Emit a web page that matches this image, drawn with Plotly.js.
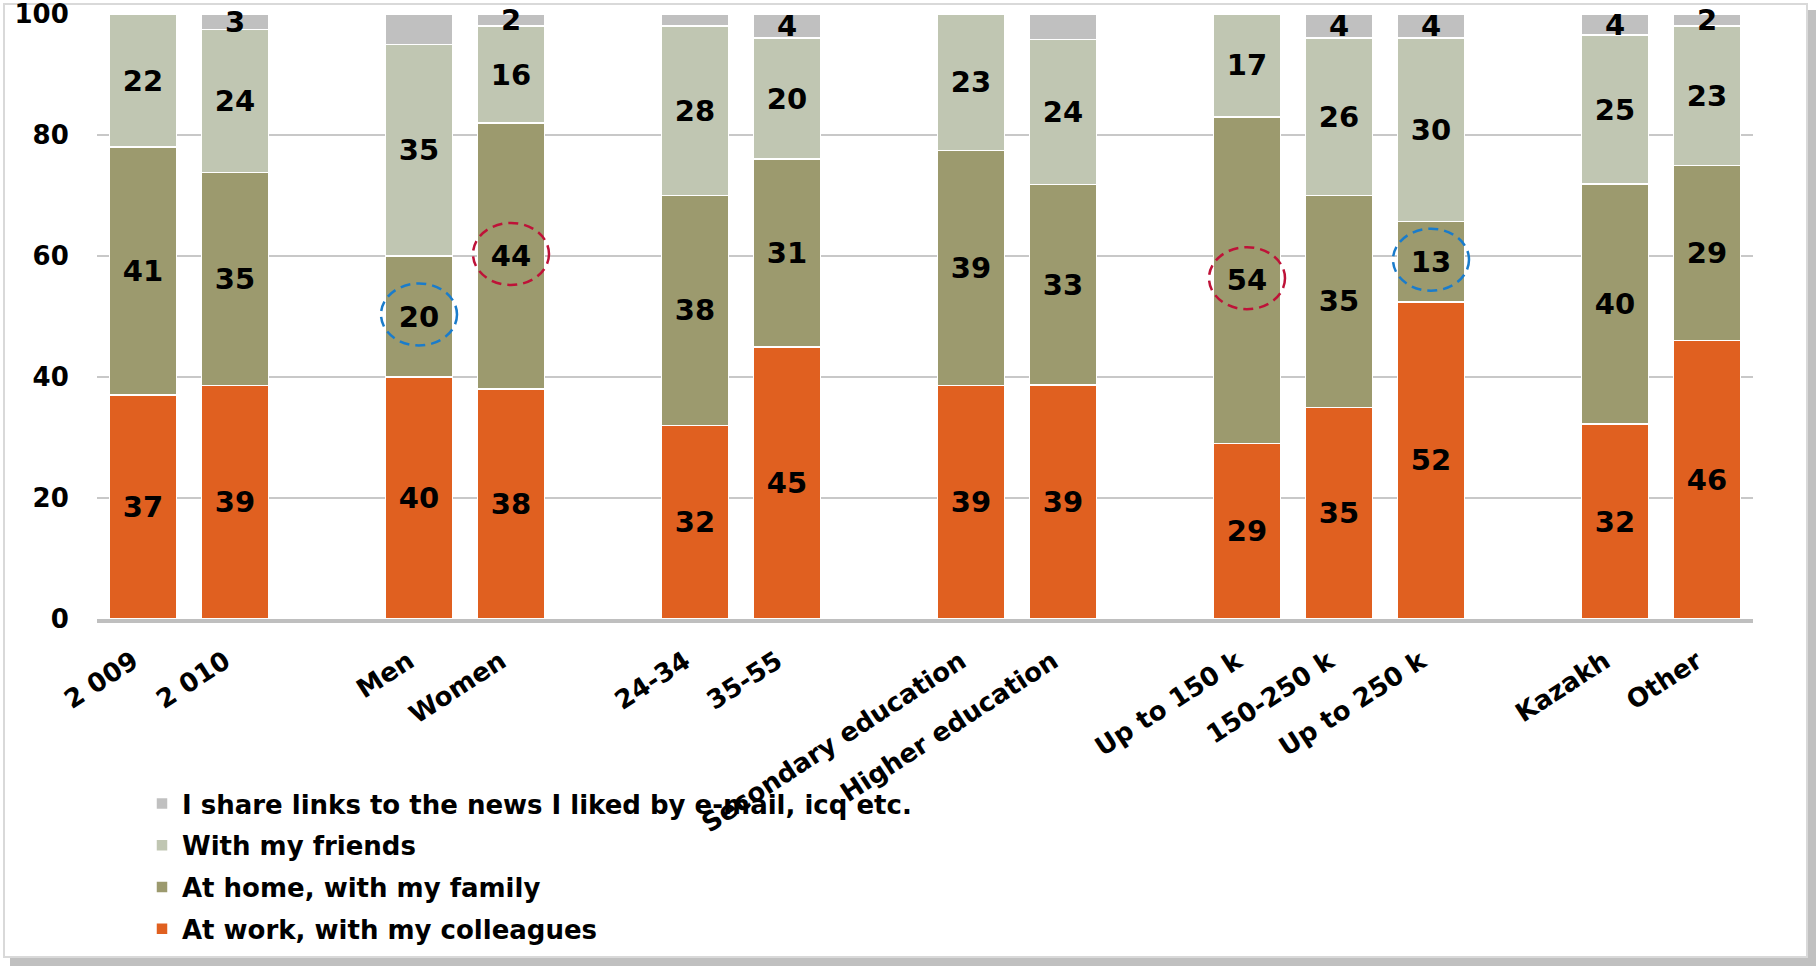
<!DOCTYPE html>
<html>
<head>
<meta charset="utf-8">
<script src="https://cdn.plot.ly/plotly-3.0.1.min.js"></script>
<style>
  html, body { margin: 0; padding: 0; background: #ffffff; }
  #chart { width: 1816px; height: 966px; }
</style>
</head>
<body>
<div id="chart"></div>
<script>
// ---- data ----
const groups = [
  ["2 009", "2 010"],
  ["Men", "Women"],
  ["24-34", "35-55"],
  ["Secondary education", "Higher education"],
  ["Up to 150 k", "150-250 k", "Up to 250 k"],
  ["Kazakh", "Other"]
];
const categories = ["2 009", "2 010", "Men", "Women", "24-34", "35-55",
  "Secondary education", "Higher education", "Up to 150 k", "150-250 k",
  "Up to 250 k", "Kazakh", "Other"];
const atWork  = [37, 38.6, 40, 38, 32, 45, 38.6, 38.7, 29, 35, 52.4, 32.2, 46];
const atHome  = [41, 35.2, 20, 44, 38, 31, 38.8, 33.1, 54, 35, 13.3, 39.7, 29];
const friends = [22, 23.6, 35, 16, 28, 20, 22.6, 24, 17, 26, 30.3, 24.6, 23];
const links   = [0, 2.6, 5, 2, 2, 4, 0, 4.2, 0, 4, 4, 3.5, 2];
const linksLabelled = [false, true, false, true, false, true, false, false, false, true, true, true, true];
const seriesNames = [
  "At work, with my colleagues",
  "At home, with my family",
  "With my friends",
  "I share links to the news I liked by e-mail, icq etc."
];
const seriesColors = ["#E06020", "#9C9A6E", "#C0C6B2", "#C0C0C0"];
const yTicks = [0, 20, 40, 60, 80, 100];
// highlighted "At home" values (dashed circles)
const highlights = [
  { cat: "Men", color: "#1A7CCB" },
  { cat: "Women", color: "#BE1238" },
  { cat: "Up to 150 k", color: "#BE1238" },
  { cat: "Up to 250 k", color: "#1A7CCB" }
];

// ---- positions from group structure (one empty slot between groups) ----
const xPos = [];
let slot = 0;
groups.forEach((g, gi) => {
  if (gi > 0) slot += 1;
  g.forEach(() => { xPos.push(slot); slot += 1; });
});
const nSlots = slot;

const FONT = "DejaVu Sans, Verdana, sans-serif";
const round = v => String(Math.round(v));

const seriesVals = [atWork, atHome, friends, links];
const traces = seriesVals.map((vals, si) => {
  let text;
  if (si === 3) text = vals.map((v, i) => linksLabelled[i] ? round(v) : "");
  else text = vals.map(v => v > 0 ? round(v) : "");
  return {
    type: "bar",
    name: seriesNames[si],
    legendgroup: "g" + si,
    legendrank: 10 - si,
    x: xPos,
    y: vals,
    text: text,
    textposition: "inside",
    insidetextanchor: "middle",
    textangle: 0,
    textfont: { family: FONT, size: 29, color: "#000000", weight: 700 },
    cliponaxis: false,
    marker: { color: seriesColors[si], line: { color: "#FFFFFF", width: 1.5 } },
    hoverinfo: "skip"
  };
});

const shapes = highlights.map(h => {
  const i = categories.indexOf(h.cat);
  return {
    type: "circle",
    xref: "x", yref: "y",
    xsizemode: "pixel", ysizemode: "pixel",
    xanchor: xPos[i], yanchor: atWork[i] + atHome[i] / 2,
    x0: -38, x1: 38, y0: -29, y1: 33,
    line: { color: h.color, width: 2.5, dash: "10px,6px" },
    fillcolor: "rgba(0,0,0,0)"
  };
});

// outer frame and shadow of the picture (pixel -> paper conversion)
const L = 97, R = 63, T = 14, B = 347, W = 1816, H = 966;
const pw = W - L - R, ph = H - T - B;
const px = v => (v - L) / pw;
const py = v => (H - B - v) / ph;
shapes.push({ type: "rect", xref: "paper", yref: "paper", layer: "below",
  x0: px(10), x1: px(1816), y0: py(957), y1: py(966),
  line: { width: 0 }, fillcolor: "#C0C0C0" });
shapes.push({ type: "rect", xref: "paper", yref: "paper", layer: "below",
  x0: px(1807), x1: px(1816), y0: py(10), y1: py(966),
  line: { width: 0 }, fillcolor: "#C0C0C0" });
shapes.push({ type: "rect", xref: "paper", yref: "paper", layer: "below",
  x0: px(4), x1: px(1807), y0: py(4), y1: py(957),
  line: { color: "#D9D9D9", width: 2 }, fillcolor: "rgba(0,0,0,0)" });

const layout = {
  width: W, height: H,
  margin: { l: L, r: R, t: T, b: B, autoexpand: false },
  paper_bgcolor: "#FFFFFF",
  plot_bgcolor: "#FFFFFF",
  barmode: "stack",
  bargap: 0.27,
  showlegend: true,
  font: { family: FONT, color: "#000000" },
  uniformtext: { mode: "show", minsize: 29 },
  xaxis: {
    type: "linear",
    range: [-0.5, nSlots - 0.5],
    tickvals: xPos,
    ticktext: categories,
    tickangle: -33,
    ticklabelshift: -10,
    ticklabelstandoff: 7,
    tickfont: { family: FONT, size: 26, color: "#000000", weight: 700 },
    ticks: "outside", ticklen: 6, tickcolor: "rgba(0,0,0,0)",
    showgrid: false,
    zeroline: false,
    showline: true, linecolor: "#BFBFBF", linewidth: 4
  },
  yaxis: {
    range: [0, 100],
    tickvals: yTicks,
    ticklabeloverflow: "allow",
    tickfont: { family: FONT, size: 26, color: "#000000", weight: 700 },
    ticks: "outside", ticklen: 22, tickcolor: "rgba(0,0,0,0)",
    showgrid: true, gridcolor: "#C8C8C8", gridwidth: 2,
    zeroline: false, showline: false
  },
  legend: {
    xref: "paper", yref: "paper",
    x: px(142), y: py(780),
    xanchor: "left", yanchor: "top",
    traceorder: "grouped",
    tracegroupgap: 5,
    font: { family: FONT, size: 26, color: "#000000", weight: 700 },
    bgcolor: "rgba(0,0,0,0)"
  },
  shapes: shapes
};

Plotly.newPlot("chart", traces, layout, { displayModeBar: false, staticPlot: true });
</script>
</body>
</html>
